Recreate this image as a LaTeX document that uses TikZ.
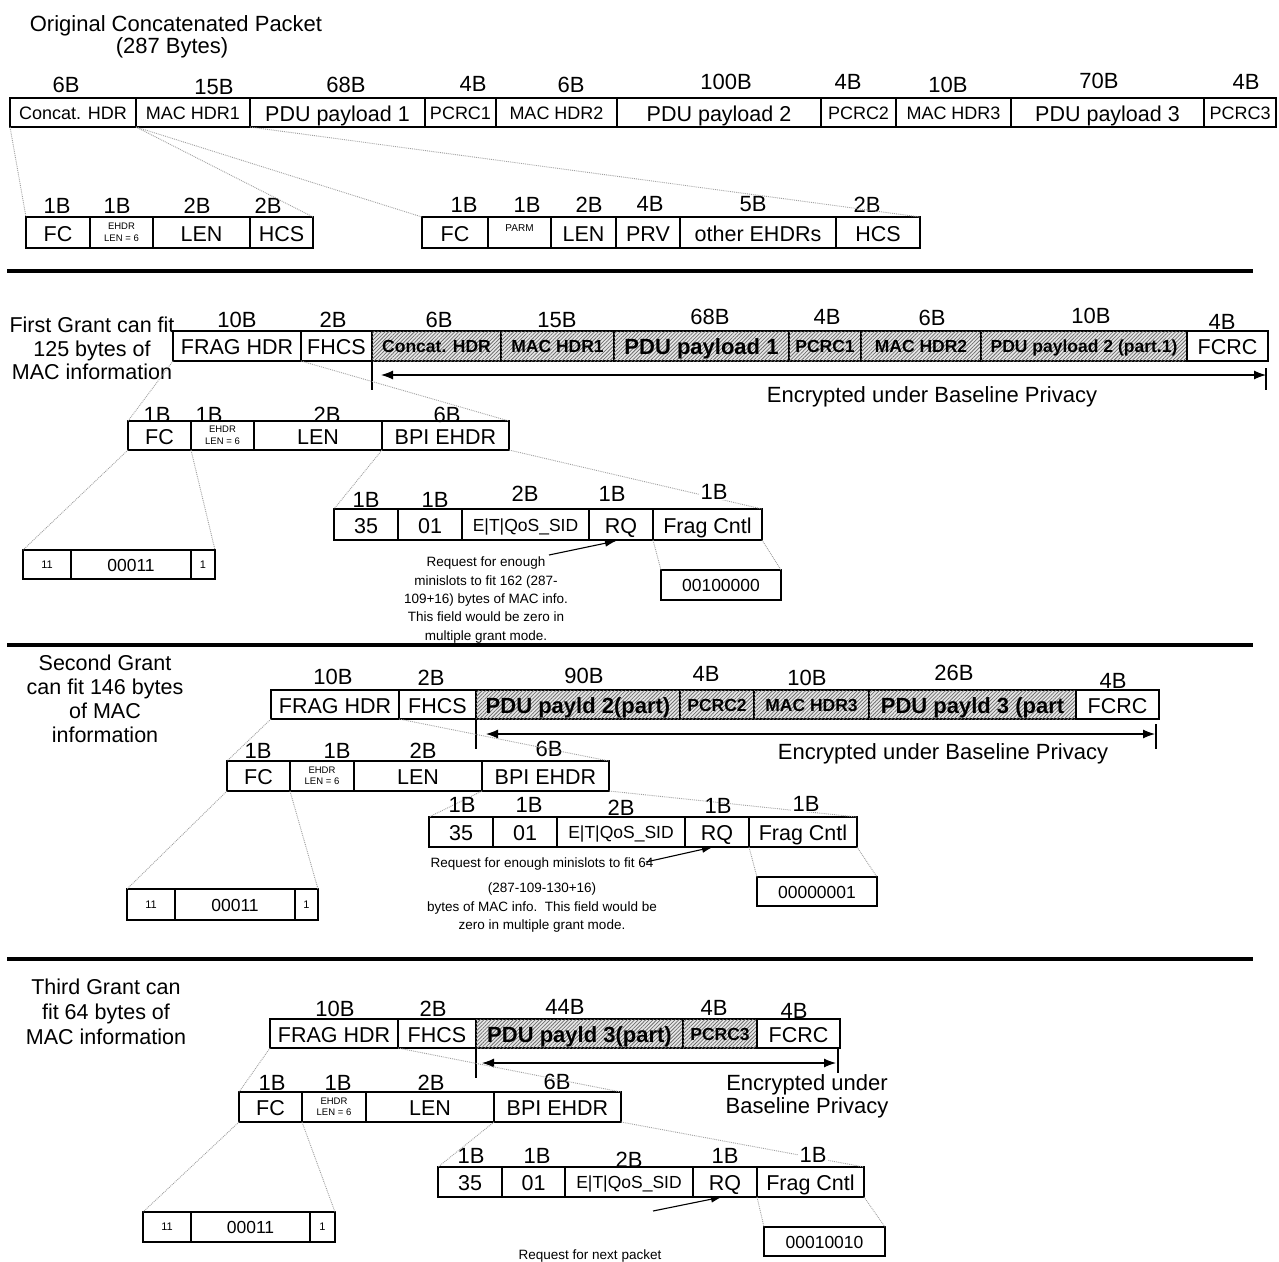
\documentclass[tikz,border=0pt]{standalone}
\usepackage{fontspec}
\setmainfont{Liberation Sans}
\usetikzlibrary{arrows.meta,patterns.meta}
\newcommand\fld[7][]{\node[fbox,#1,minimum width={(#4)-(#3)},minimum height={(#6)-(#5)},anchor=north west] (#2) at (#3,#5) {#7};}
\newcommand\lbl[5][]{\node[szlbl,#1] (#2) at (#3,#4) {#5};}
\tikzset{
 fbox/.style={draw, line width=1.1pt, inner sep=0pt, outer sep=0pt},
 tM/.style={font=\fontsize{21.5}{24}\selectfont, text height=17pt, text depth=0pt},
 tS/.style={font=\fontsize{18}{21}\selectfont, text height=13.5pt, text depth=0pt},
 tQ/.style={font=\fontsize{17.5}{21}\selectfont, text height=13.5pt, text depth=0pt},
 tE/.style={font=\fontsize{11}{13}\selectfont, text height=7pt, text depth=0pt},
 tT/.style={font=\fontsize{9.5}{11.5}\selectfont, align=center},
 tBL/.style={font=\bfseries\fontsize{22}{24}\selectfont, text height=17pt, text depth=0pt},
 tBS/.style={font=\bfseries\fontsize{17.5}{21}\selectfont, text height=13.5pt, text depth=0pt},
 hatch/.style={fill=gray!18, postaction={pattern={Lines[angle=45,distance=2.6pt,line width=0.75pt]}, pattern color=gray!85!black}},
 szlbl/.style={font=\fontsize{22}{24}\selectfont, inner sep=0pt, text height=15.8pt, text depth=0pt},
 wlbl/.style={fill=white, inner xsep=2pt},
 title/.style={font=\fontsize{22}{24}\selectfont, inner sep=0pt, text height=15.8pt, text depth=0pt},
 sidetxt/.style={font=\fontsize{21.5}{24}\selectfont, inner sep=0pt, align=center},
 enctxt/.style={font=\fontsize{22}{23}\selectfont, inner sep=0pt, align=center},
 note/.style={font=\fontsize{13.5}{18.3}\selectfont, inner sep=0pt, align=center},
 tinytxt/.style={font=\fontsize{10}{12}\selectfont, inner sep=0pt},
 conn/.style={draw=gray!75, densely dotted, line width=0.9pt},
 sepline/.style={line width=3.6pt},
 tick/.style={line width=1.1pt},
 enc/.style={line width=1.1pt, {Latex[length=12pt,width=9pt]}-{Latex[length=12pt,width=9pt]}},
 parr/.style={line width=1.1pt, -{Latex[length=11pt,width=7pt]}}
}
\begin{document}
\begin{tikzpicture}[x=1pt,y=-1pt]
\useasboundingbox (0,0) rectangle (1279,1261);
% ================= Section 1 =================
\node[title] (t1) at (176,24) {Original Concatenated Packet};
\node[title] (t2) at (172,46) {(287 Bytes)};
\fld[tS]{c1}{10}{136}{98}{127}{Concat. HDR}
\fld[tS]{c2}{136}{250}{98}{127}{MAC HDR1}
\fld[tM]{c3}{250}{425}{98}{127}{PDU payload 1}
\fld[tS]{c4}{425}{496}{98}{127}{PCRC1}
\fld[tS]{c5}{496}{617}{98}{127}{MAC HDR2}
\fld[tM]{c6}{617}{821}{98}{127}{PDU payload 2}
\fld[tS]{c7}{821}{896}{98}{127}{PCRC2}
\fld[tS]{c8}{896}{1011}{98}{127}{MAC HDR3}
\fld[tM]{c9}{1011}{1204}{98}{127}{PDU payload 3}
\fld[tS]{c10}{1204}{1276}{98}{127}{PCRC3}
\lbl{l1}{66}{85}{6B}
\lbl{l2}{214}{87}{15B}
\lbl{l3}{346}{85}{68B}
\lbl{l4}{473}{84}{4B}
\lbl{l5}{571}{85}{6B}
\lbl{l6}{726}{82}{100B}
\lbl{l7}{848}{82}{4B}
\lbl{l8}{948}{85}{10B}
\lbl{l9}{1099}{81}{70B}
\lbl{l10}{1246}{82}{4B}
% concat hdr expansion
\fld[tM]{a1}{26}{90}{217}{248}{FC}
\fld[tT]{a2}{90}{153}{217}{248}{EHDR\\LEN = 6}
\fld[tM]{a3}{153}{250}{217}{248}{LEN}
\fld[tM]{a4}{250}{313}{217}{248}{HCS}
\lbl{la1}{57}{206}{1B}
\lbl{la2}{117}{206}{1B}
\lbl{la3}{197}{206}{2B}
\lbl{la4}{268}{206}{2B}
% mac hdr1 expansion
\fld[tM]{b1}{422}{488}{217}{248}{FC}
\fld{b2}{488}{551}{217}{248}{}
\node[tinytxt] (b2t) at (519.5,228) {PARM};
\fld[tM]{b3}{551}{616}{217}{248}{LEN}
\fld[tM]{b4}{616}{680}{217}{248}{PRV}
\fld[tM]{b5}{680}{836}{217}{248}{other EHDRs}
\fld[tM]{b6}{836}{920}{217}{248}{HCS}
\lbl{lb1}{464}{205}{1B}
\lbl{lb2}{527}{205}{1B}
\lbl{lb3}{589}{205}{2B}
\lbl{lb4}{650}{204}{4B}
\lbl{lb5}{753}{204}{5B}
\lbl{lb6}{867}{205}{2B}
\draw[conn] (c1.south west) -- (a1.north west);
\draw[conn] (c1.south east) -- (a4.north east);
\draw[conn] (c2.south west) -- (b1.north west);
\draw[conn] (c2.south east) -- (b6.north east);
\coordinate (s1L) at (7,271);
\coordinate (s1R) at (1253,271);
\draw[sepline] (s1L) -- (s1R);
% ================= Section 2 =================
\node[sidetxt,font=\fontsize{21.5}{23.5}\selectfont] (g1txt) at (92,348.5) {First Grant can fit\\125 bytes of\\MAC information};
\fld[tM]{g1f}{173}{301}{331}{361}{FRAG HDR}
\fld[tM]{g1h}{301}{372}{331}{361}{FHCS}
\fld[hatch,tBS]{g1c}{372}{501}{331}{361}{Concat. HDR}
\fld[hatch,tBS]{g1m}{501}{614}{331}{361}{MAC HDR1}
\fld[hatch,tBL]{g1p}{614}{789}{331}{361}{PDU payload 1}
\fld[hatch,tBS]{g1r}{789}{861}{331}{361}{PCRC1}
\fld[hatch,tBS]{g1m2}{861}{981}{331}{361}{MAC HDR2}
\fld[hatch,tBS]{g1p2}{981}{1187}{331}{361}{PDU payload 2 (part.1)}
\fld[tM]{g1fc}{1187}{1268}{331}{361}{FCRC}
\lbl{lg1a}{237}{319.5}{10B}
\lbl{lg1b}{333}{320}{2B}
\lbl{lg1c}{439}{319.5}{6B}
\lbl{lg1d}{557}{319.5}{15B}
\lbl{lg1e}{710}{317}{68B}
\lbl{lg1f}{827}{317}{4B}
\lbl{lg1g}{932}{318}{6B}
\lbl{lg1h}{1091}{316}{10B}
\lbl{lg1i}{1222}{322}{4B}
\coordinate (g1aL) at (381,375);
\coordinate (g1aR) at (1266,375);
\draw[enc] (g1aL) -- (g1aR);
\draw[tick] (g1h.south east) -- ++(0,29);
\coordinate (g1tR) at (1266,368);
\draw[tick] (g1tR) -- ++(0,22);
\node[enctxt,text height=15.8pt,text depth=0pt] (g1enc) at (932,395) {Encrypted under Baseline Privacy};
% FRAG HDR expansion
\fld[tM]{g1a}{128}{191}{421}{450}{FC}
\fld[tT]{g1b}{191}{254}{421}{450}{EHDR\\LEN = 6}
\fld[tM]{g1c2}{254}{382}{421}{450}{LEN}
\fld[tM]{g1d}{382}{509}{421}{450}{BPI EHDR}
\lbl{lg1j}{157}{414.5}{1B}
\lbl{lg1k}{209}{414.5}{1B}
\lbl{lg1l}{327}{414.5}{2B}
\lbl{lg1m}{447}{414.5}{6B}
% FC expansion
\fld[tE]{g1x1}{23}{71}{550}{579}{11}
\fld[tQ]{g1x2}{71}{191}{550}{579}{00011}
\fld[tE]{g1x3}{191}{215}{550}{579}{1}
% BPI expansion
\fld[tM]{g1e1}{334}{398}{509}{540}{35}
\fld[tM]{g1e2}{398}{462}{509}{540}{01}
\fld[tQ]{g1e3}{462}{589}{509}{540}{E|T|QoS\_SID}
\fld[tM]{g1e4}{589}{653}{509}{540}{RQ}
\fld[tM]{g1e5}{653}{762}{509}{540}{Frag Cntl}
\fld[tQ]{g1v}{661}{781}{570}{600}{00100000}
\draw[conn] (g1f.south west) -- (g1a.north west);
\draw[conn] (g1f.south east) -- (g1d.north east);
\draw[conn] (g1a.south west) -- (g1x1.north west);
\draw[conn] (g1a.south east) -- (g1x3.north east);
\draw[conn] (g1d.south west) -- (g1e1.north west);
\draw[conn] (g1d.south east) -- (g1e5.north east);
\draw[conn] (g1e5.south west) -- (g1v.north west);
\draw[conn] (g1e5.south east) -- (g1v.north east);
\lbl{lg1n}{366}{500}{1B}
\lbl{lg1o}{435}{500}{1B}
\lbl{lg1p}{525}{494}{2B}
\lbl{lg1q}{612}{494}{1B}
\lbl[wlbl]{lg1r}{714}{492}{1B}
\node[note] (g1n) at (486,600) {Request for enough\\minislots to fit 162 (287-\\109+16) bytes of MAC info.\\This field would be zero in\\multiple grant mode.};
\coordinate (g1q1) at (549,555);
\coordinate (g1q2) at (616,541);
\draw[parr] (g1q1) -- (g1q2);
\coordinate (s2L) at (7,645);
\coordinate (s2R) at (1253,645);
\draw[sepline] (s2L) -- (s2R);
% ================= Section 3 =================
\node[sidetxt] (g2txt) at (105,699) {Second Grant\\can fit 146 bytes\\of MAC\\information};
\fld[tM]{g2f}{271}{399}{690}{719}{FRAG HDR}
\fld[tM]{g2h}{399}{476}{690}{719}{FHCS}
\fld[hatch,tBL]{g2p}{476}{680}{690}{719}{PDU payld 2(part)}
\fld[hatch,tBS]{g2r}{680}{754}{690}{719}{PCRC2}
\fld[hatch,tBS]{g2m}{754}{869}{690}{719}{MAC HDR3}
\fld[hatch,tBL]{g2q}{869}{1076}{690}{719}{PDU payld 3 (part}
\fld[tM]{g2fc}{1076}{1159}{690}{719}{FCRC}
\lbl{lg2a}{333}{677}{10B}
\lbl{lg2b}{431}{678}{2B}
\lbl{lg2c}{584}{676}{90B}
\lbl{lg2d}{706}{674}{4B}
\lbl{lg2e}{807}{678}{10B}
\lbl{lg2f}{954}{673}{26B}
\lbl{lg2g}{1113}{681}{4B}
\coordinate (g2aL) at (486,734);
\coordinate (g2aR) at (1155,734);
\draw[enc] (g2aL) -- (g2aR);
\draw[tick] (g2h.south east) -- ++(0,30);
\coordinate (g2tR) at (1156,724);
\draw[tick] (g2tR) -- ++(0,25);
\node[enctxt,text height=15.8pt,text depth=0pt] (g2enc) at (943,752) {Encrypted under Baseline Privacy};
\fld[tM]{g2a}{227}{290}{761}{791}{FC}
\fld[tT]{g2b}{290}{354}{761}{791}{EHDR\\LEN = 6}
\fld[tM]{g2c}{354}{482}{761}{791}{LEN}
\fld[tM]{g2d}{482}{609}{761}{791}{BPI EHDR}
\lbl{lg2h}{258}{751}{1B}
\lbl{lg2i}{337}{751}{1B}
\lbl{lg2j}{423}{751}{2B}
\lbl{lg2k}{549}{749}{6B}
\fld[tE]{g2x1}{127}{175}{889}{920}{11}
\fld[tQ]{g2x2}{175}{295}{889}{920}{00011}
\fld[tE]{g2x3}{295}{318}{889}{920}{1}
\fld[tM]{g2e1}{429}{493}{817}{847}{35}
\fld[tM]{g2e2}{493}{557}{817}{847}{01}
\fld[tQ]{g2e3}{557}{685}{817}{847}{E|T|QoS\_SID}
\fld[tM]{g2e4}{685}{749}{817}{847}{RQ}
\fld[tM]{g2e5}{749}{857}{817}{847}{Frag Cntl}
\fld[tQ]{g2v}{757}{877}{877}{906}{00000001}
\draw[conn] (g2f.south west) -- (g2a.north west);
\draw[conn] (g2f.south east) -- (g2d.north east);
\draw[conn] (g2a.south west) -- (g2x1.north west);
\draw[conn] (g2a.south east) -- (g2x3.north east);
\draw[conn] (g2d.south west) -- (g2e1.north west);
\draw[conn] (g2d.south east) -- (g2e5.north east);
\draw[conn] (g2e5.south west) -- (g2v.north west);
\draw[conn] (g2e5.south east) -- (g2v.north east);
\lbl{lg2l}{462}{805}{1B}
\lbl{lg2m}{529}{805}{1B}
\lbl{lg2n}{621}{808}{2B}
\lbl{lg2o}{718}{806}{1B}
\lbl[wlbl]{lg2p}{806}{804}{1B}
\node[note] (g2n) at (542,895) {Request for enough minislots to fit 64\\[7pt](287-109-130+16)\\bytes of MAC info.\ \ This field would be\\zero in multiple grant mode.};
\coordinate (g2q1) at (646,862);
\coordinate (g2q2) at (713,847);
\draw[parr] (g2q1) -- (g2q2);
\coordinate (s3L) at (7,959);
\coordinate (s3R) at (1253,959);
\draw[sepline] (s3L) -- (s3R);
% ================= Section 4 =================
\node[sidetxt,font=\fontsize{21.5}{25}\selectfont] (g3txt) at (106,1012) {Third Grant can\\fit 64 bytes of\\MAC information};
\fld[tM]{g3f}{270}{398}{1019}{1048}{FRAG HDR}
\fld[tM]{g3h}{398}{476}{1019}{1048}{FHCS}
\fld[hatch,tBL]{g3p}{476}{683}{1019}{1048}{PDU payld 3(part)}
\fld[hatch,tBS]{g3r}{683}{757}{1019}{1048}{PCRC3}
\fld[tM]{g3fc}{757}{840}{1019}{1048}{FCRC}
\lbl{lg3a}{335}{1009}{10B}
\lbl{lg3b}{433}{1009}{2B}
\lbl{lg3c}{565}{1007}{44B}
\lbl{lg3d}{714}{1008}{4B}
\lbl{lg3e}{794}{1011}{4B}
\coordinate (g3aL) at (482,1063);
\coordinate (g3aR) at (836,1063);
\draw[enc] (g3aL) -- (g3aR);
\draw[tick] (g3h.south east) -- ++(0,30);
\coordinate (g3tR) at (838,1048);
\draw[tick] (g3tR) -- ++(0,25);
\node[enctxt] (g3enc) at (807,1096) {Encrypted under\\Baseline Privacy};
\fld[tM]{g3a}{239}{302}{1092}{1122}{FC}
\fld[tT]{g3b}{302}{366}{1092}{1122}{EHDR\\LEN = 6}
\fld[tM]{g3c}{366}{494}{1092}{1122}{LEN}
\fld[tM]{g3d}{494}{621}{1092}{1122}{BPI EHDR}
\lbl{lg3f}{272}{1083}{1B}
\lbl{lg3g}{338}{1083}{1B}
\lbl{lg3h}{431}{1083}{2B}
\lbl{lg3i}{557}{1082}{6B}
\fld[tE]{g3x1}{143}{191}{1212}{1242}{11}
\fld[tQ]{g3x2}{191}{310}{1212}{1242}{00011}
\fld[tE]{g3x3}{310}{335}{1212}{1242}{1}
\fld[tM]{g3e1}{438}{502}{1167}{1197}{35}
\fld[tM]{g3e2}{502}{565}{1167}{1197}{01}
\fld[tQ]{g3e3}{565}{693}{1167}{1197}{E|T|QoS\_SID}
\fld[tM]{g3e4}{693}{757}{1167}{1197}{RQ}
\fld[tM]{g3e5}{757}{864}{1167}{1197}{Frag Cntl}
\fld[tQ]{g3v}{764}{885}{1227}{1256}{00010010}
\draw[conn] (g3f.south west) -- (g3a.north west);
\draw[conn] (g3f.south east) -- (g3d.north east);
\draw[conn] (g3a.south west) -- (g3x1.north west);
\draw[conn] (g3a.south east) -- (g3x3.north east);
\draw[conn] (g3d.south west) -- (g3e1.north west);
\draw[conn] (g3d.south east) -- (g3e5.north east);
\draw[conn] (g3e5.south west) -- (g3v.north west);
\draw[conn] (g3e5.south east) -- (g3v.north east);
\lbl{lg3j}{471}{1156}{1B}
\lbl{lg3k}{537}{1156}{1B}
\lbl{lg3l}{629}{1160}{2B}
\lbl{lg3m}{725}{1156}{1B}
\lbl[wlbl]{lg3n}{813}{1155}{1B}
\node[note,text height=9.7pt,text depth=0pt] (g3n) at (590,1255) {Request for next packet};
\coordinate (g3q1) at (653,1211);
\coordinate (g3q2) at (722,1197);
\draw[parr] (g3q1) -- (g3q2);
\end{tikzpicture}
\end{document}
